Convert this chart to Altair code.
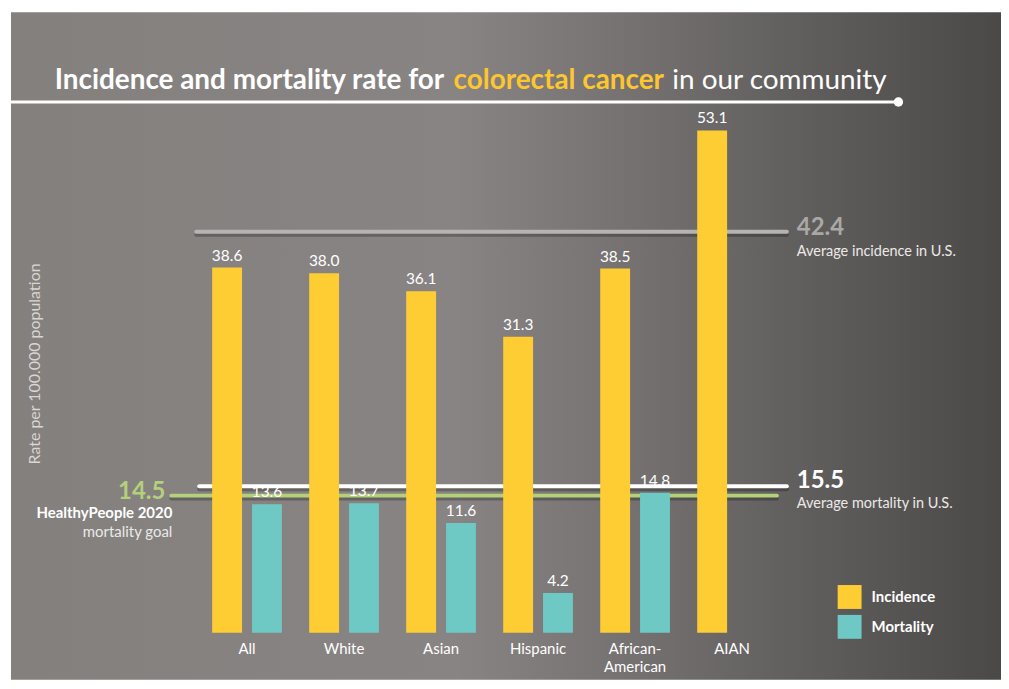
import altair as alt
import pandas as pd

# ---------------- data ----------------
groups = ["All", "White", "Asian", "Hispanic", "African-American", "AIAN"]
group_labels = ["All", "White", "Asian", "Hispanic", "African-\nAmerican", "AIAN"]
incidence = [38.6, 38.0, 36.1, 31.3, 38.5, 53.1]
mortality = [13.6, 13.7, 11.6, 4.2, 14.8, None]
measures = ["Incidence", "Mortality"]

us_incidence = 42.4
us_incidence_label = "Average incidence in U.S."
us_mortality = 15.5
us_mortality_label = "Average mortality in U.S."
hp_goal = 14.5
hp_goal_label1 = "HealthyPeople 2020"
hp_goal_label2 = "mortality goal"

title_parts = ["Incidence and mortality rate for", "colorectal cancer", "in our community"]
y_title = "Rate per 100.000 population"

# ---------------- style ----------------
W, H = 994, 670
YELLOW = "#fecc33"
TEAL = "#6ec8c4"
GREEN = "#b4d07a"
FONT = "Lato, 'Open Sans', sans-serif"

rows = []
for g, inc, mort in zip(groups, incidence, mortality):
    rows.append({"group": g, "measure": "Incidence", "value": inc})
    if mort is not None:
        rows.append({"group": g, "measure": "Mortality", "value": mort})
df = pd.DataFrame(rows)

x_scale = alt.Scale(domain=groups, range=[188.3, 772.7], paddingInner=0.281, paddingOuter=0.1405)
y_scale = alt.Scale(domain=[-4.95, 65.58], nice=False)
xo_scale = alt.Scale(domain=measures, paddingInner=0.25, paddingOuter=0)

one = alt.Data(values=[{}])

bg = alt.Chart(one).mark_rect(
    fill=alt.Gradient(
        gradient="linear",
        stops=[
            alt.GradientStop(color="#84807e", offset=0),
            alt.GradientStop(color="#888483", offset=0.45),
            alt.GradientStop(color="#4a4948", offset=1),
        ],
        x1=0, x2=1, y1=0, y2=0,
    )
).encode(x=alt.value(0), x2=alt.value(W), y=alt.value(0), y2=alt.value(H))

uline = alt.Chart(one).mark_rule(color="white", strokeWidth=3).encode(
    x=alt.value(0), x2=alt.value(889), y=alt.value(90)
)
dot = alt.Chart(one).mark_point(filled=True, color="white", size=90, opacity=1, shape="circle").encode(
    x=alt.value(891), y=alt.value(90)
)

TS = 28
t1 = alt.Chart(one).mark_text(text=title_parts[0], align="right", baseline="alphabetic",
                              font=FONT, fontSize=TS, fontWeight="bold", color="white").encode(
    x=alt.value(435), y=alt.value(77))
t2 = alt.Chart(one).mark_text(text=title_parts[1], align="center", baseline="alphabetic",
                              font=FONT, fontSize=TS, fontWeight="bold", color="#fdc62f").encode(
    x=alt.value(550), y=alt.value(77))
t3 = alt.Chart(one).mark_text(text=title_parts[2], align="left", baseline="alphabetic",
                              font=FONT, fontSize=TS, fontWeight="normal", color="white").encode(
    x=alt.value(664), y=alt.value(77))

ytitle = alt.Chart(one).mark_text(text=y_title, angle=270, align="center", baseline="middle",
                                  font=FONT, fontSize=16, fontWeight="normal", color="#d9d6d4").encode(
    x=alt.value(24), y=alt.value(353))


def ref_line(value, color, x1, x2):
    d = pd.DataFrame({"value": [value]})
    shadow = alt.Chart(d).mark_rule(color="black", opacity=0.25, strokeWidth=4, strokeCap="round").encode(
        x=alt.value(x1), x2=alt.value(x2), y=alt.Y("value:Q", scale=y_scale, axis=None), yOffset=alt.value(3))
    line = alt.Chart(d).mark_rule(color=color, strokeWidth=4, strokeCap="round").encode(
        x=alt.value(x1), x2=alt.value(x2), y=alt.Y("value:Q", scale=y_scale, axis=None))
    return d, shadow, line


d_inc, s_inc, l_inc = ref_line(us_incidence, "#b6b4b2", 186, 779)
d_mort, s_mort, l_mort = ref_line(us_mortality, "white", 189, 779)
d_goal, s_goal, l_goal = ref_line(hp_goal, GREEN, 161, 769)

yq = alt.Y("value:Q", scale=y_scale, axis=None)

lab_inc = alt.Chart(d_inc).mark_text(align="left", baseline="middle", dy=-4, font=FONT, fontSize=24,
                                     fontWeight="bold", color="#aaa8a6").encode(
    x=alt.value(789), y=yq, text=alt.Text("value:Q", format=".1f"))
desc_inc = alt.Chart(d_inc).mark_text(text=us_incidence_label, align="left", baseline="middle", dy=20,
                                      font=FONT, fontSize=14.5, color="#ebe9e7").encode(x=alt.value(789), y=yq)
lab_mort = alt.Chart(d_mort).mark_text(align="left", baseline="middle", dy=-5, font=FONT, fontSize=24,
                                       fontWeight="bold", color="white").encode(
    x=alt.value(789), y=yq, text=alt.Text("value:Q", format=".1f"))
desc_mort = alt.Chart(d_mort).mark_text(text=us_mortality_label, align="left", baseline="middle", dy=18,
                                        font=FONT, fontSize=14.5, color="#ebe9e7").encode(x=alt.value(789), y=yq)
lab_goal = alt.Chart(d_goal).mark_text(align="right", baseline="middle", dy=-4, font=FONT, fontSize=24,
                                       fontWeight="bold", color=GREEN).encode(
    x=alt.value(155), y=yq, text=alt.Text("value:Q", format=".1f"))
desc_goal1 = alt.Chart(d_goal).mark_text(text=hp_goal_label1, align="right", baseline="middle", dy=17,
                                         font=FONT, fontSize=15, fontWeight="bold", color="white").encode(
    x=alt.value(162), y=yq)
desc_goal2 = alt.Chart(d_goal).mark_text(text=hp_goal_label2, align="right", baseline="middle", dy=37,
                                         font=FONT, fontSize=15, color="#ebe9e7").encode(
    x=alt.value(162), y=yq)

base = alt.Chart(df)
bars = base.mark_bar().encode(
    x=alt.X("group:N", scale=x_scale, axis=None),
    xOffset=alt.XOffset("measure:N", scale=xo_scale),
    y=yq,
    color=alt.Color(
        "measure:N",
        scale=alt.Scale(domain=measures, range=[YELLOW, TEAL]),
        legend=alt.Legend(
            title=None, orient="none", legendX=830, legendY=575, symbolType="square",
            symbolSize=576, symbolStrokeWidth=0, symbolOpacity=1, labelFont=FONT,
            labelFontWeight="bold", labelFontSize=15, labelColor="white", rowPadding=6,
            labelOffset=10, padding=0,
        ),
    ),
)
vals = base.mark_text(baseline="alphabetic", dy=-7, font=FONT, fontSize=15.5, color="white").encode(
    x=alt.X("group:N", scale=x_scale, axis=None),
    xOffset=alt.XOffset("measure:N", scale=xo_scale),
    y=yq,
    text=alt.Text("value:Q", format=".1f"),
)

cats = alt.Chart(pd.DataFrame({"group": groups, "label": group_labels})).mark_text(
    lineBreak="\n", baseline="top", font=FONT, fontSize=15, lineHeight=18, color="white"
).encode(x=alt.X("group:N", scale=x_scale, axis=None), y=alt.value(632), text="label:N")

chart = alt.layer(
    bg, uline, dot, t1, t2, t3, ytitle,
    s_inc, l_inc, s_goal, l_goal, s_mort, l_mort,
    bars, vals, cats,
    lab_inc, desc_inc, lab_mort, desc_mort, lab_goal, desc_goal1, desc_goal2,
).properties(
    width=W, height=H, autosize=alt.AutoSizeParams(type="none"),
    padding={"left": 3, "top": 3, "right": 0, "bottom": 0},
).configure_view(stroke=None)

chart.save("out.html", embed_options={"renderer": "svg", "actions": False})
